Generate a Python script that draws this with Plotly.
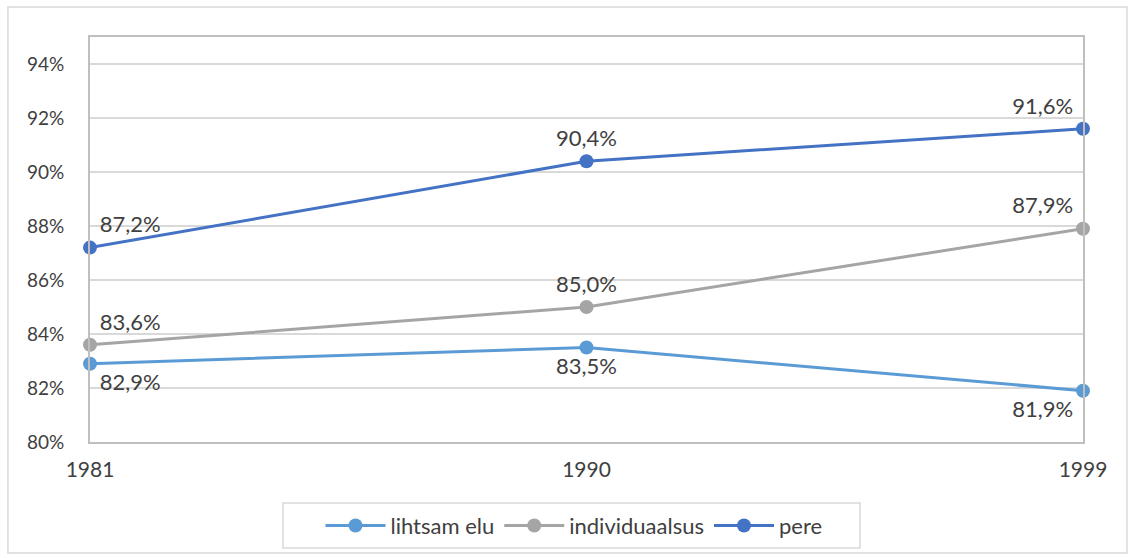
import plotly.graph_objects as go

years = ['1981', '1990', '1999']
lihtsam_elu = [0.829, 0.835, 0.819]
individuaalsus = [0.836, 0.850, 0.879]
pere = [0.872, 0.904, 0.916]
y_ticks = [0.80, 0.82, 0.84, 0.86, 0.88, 0.90, 0.92, 0.94]

font_name = 'Lato'
text_color = '#404040'


def pct_label(v):
    return f'{v * 100:.1f}%'.replace('.', ',')


series = [
    ('lihtsam elu', lihtsam_elu, '#5B9BD5', ['bottom right', 'bottom center', 'bottom left']),
    ('individuaalsus', individuaalsus, '#A5A5A5', ['top right', 'top center', 'top left']),
    ('pere', pere, '#4472C4', ['top right', 'top center', 'top left']),
]

fig = go.Figure()
for name, values, color, positions in series:
    fig.add_trace(go.Scatter(
        x=years, y=values, name=name,
        mode='lines+markers+text',
        line=dict(color=color, width=3),
        marker=dict(color=color, size=14),
        text=[pct_label(v) for v in values],
        textposition=positions,
        textfont=dict(family=font_name, size=22, color=text_color),
        cliponaxis=False,
    ))

fig.update_layout(
    width=1134, height=558,
    margin=dict(l=90, r=51, t=37, b=116),
    paper_bgcolor='white', plot_bgcolor='white',
    font=dict(family=font_name, size=19, color=text_color),
    showlegend=True,
    legend=dict(
        orientation='h', x=0.4874, y=0.058, xanchor='center', yanchor='middle',
        yref='container', borderwidth=0,
        font=dict(family=font_name, size=22, color=text_color),
        itemwidth=60, traceorder='normal',
    ),
    xaxis=dict(
        type='category', range=[0, 2],
        showgrid=False, showline=True, linecolor='#BFBFBF', linewidth=2,
        mirror=True, ticks='', ticklabelstandoff=8,
        tickfont=dict(size=21),
    ),
    yaxis=dict(
        range=[0.80, 0.95], tickvals=y_ticks, tickformat='.0%',
        showgrid=True, gridcolor='#D9D9D9', gridwidth=1.5,
        showline=True, linecolor='#BFBFBF', linewidth=2, mirror=True,
        zeroline=False, ticks='', ticklabelstandoff=20,
    ),
    shapes=[
        dict(type='rect', xref='paper', yref='paper',
             x0=-0.0826, x1=1.0443, y0=-0.274, y1=1.074,
             line=dict(color='#D9D9D9', width=1.5), layer='below'),
        dict(type='rect', xref='paper', yref='paper',
             x0=0.1944, x1=0.7754, y0=-0.2617, y1=-0.1506,
             line=dict(color='#D9D9D9', width=1.5), layer='below'),
    ],
)

fig.write_html('out.html', config={'displayModeBar': False},
               post_script="document.body.style.margin='0';")
